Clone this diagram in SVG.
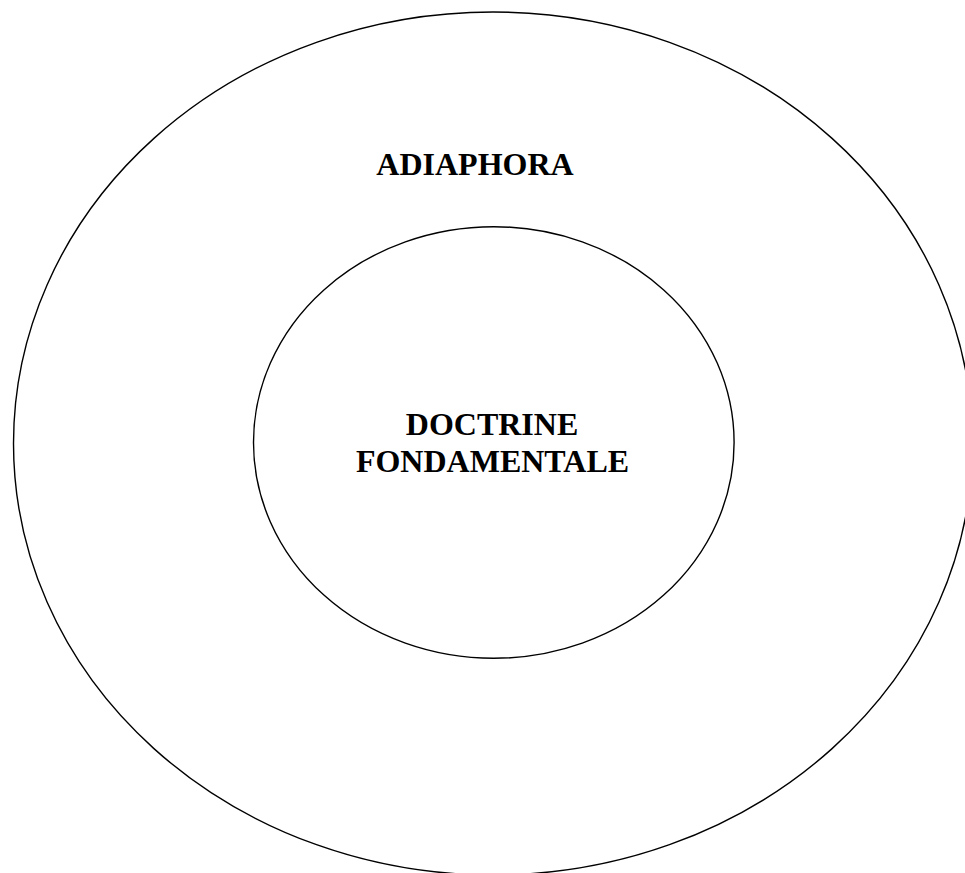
<svg xmlns="http://www.w3.org/2000/svg" width="965" height="873" viewBox="0 0 965 873">
<style>
.ring{fill:none;stroke:#000;stroke-width:1.4}
.lbl{font-family:"Liberation Serif","Times New Roman",serif;font-weight:bold;font-size:32px;fill:#000;text-anchor:middle}
</style>
<rect width="965" height="873" fill="#fff"/>
<g id="adiaphora">
<ellipse class="ring" cx="493" cy="443.5" rx="479.5" ry="431.5"/>
<text class="lbl" x="475" y="175">ADIAPHORA</text>
</g>
<g id="doctrine">
<ellipse class="ring" cx="493.8" cy="442.5" rx="240.3" ry="215.8"/>
<text class="lbl" x="492" y="435">DOCTRINE</text>
<text class="lbl" x="492.5" y="471.5">FONDAMENTALE</text>
</g>
<g id="connectors"/>
</svg>
